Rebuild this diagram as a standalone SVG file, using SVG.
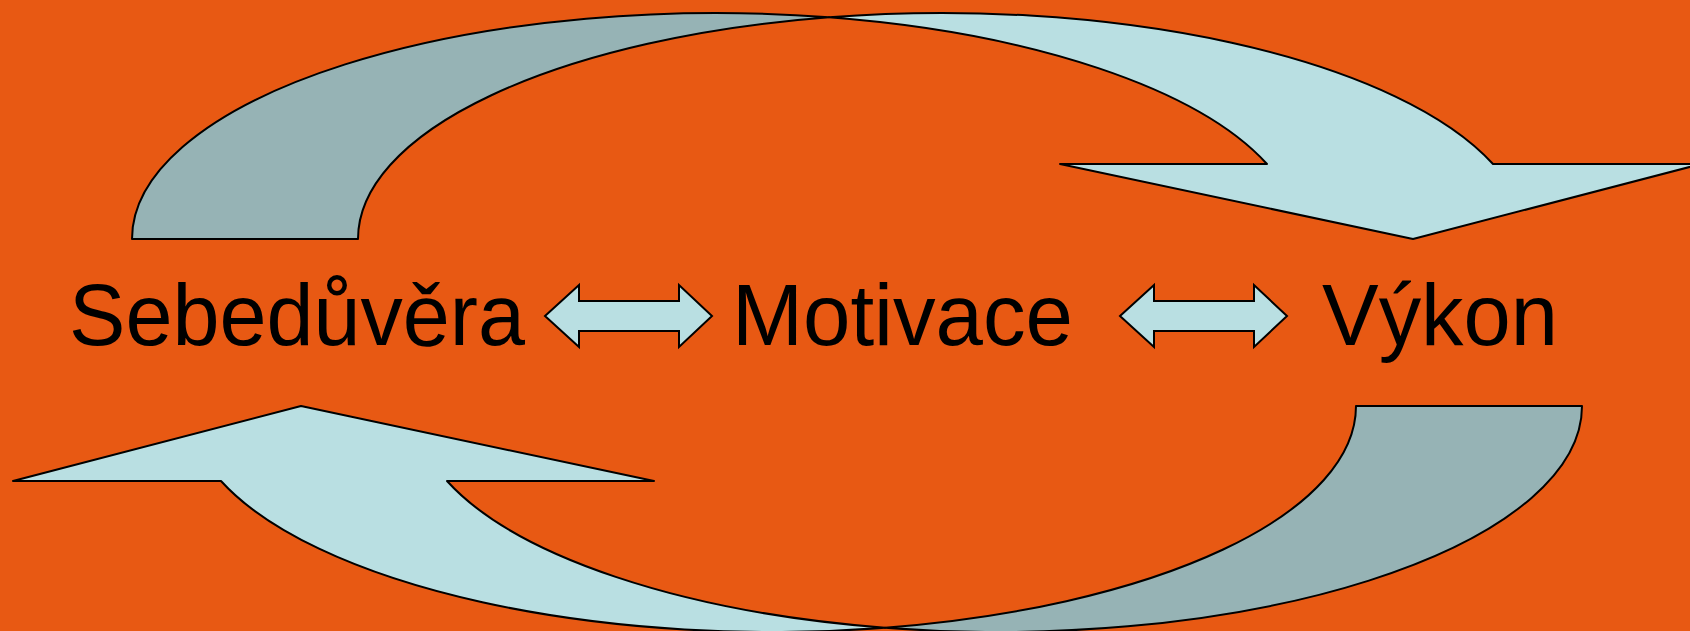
<svg xmlns="http://www.w3.org/2000/svg" width="1690" height="631" viewBox="0 0 1690 631">
  <style>
    .back { fill: #96B3B5; stroke: #000; stroke-width: 2; stroke-linejoin: round; }
    .front { fill: #B9DFE2; stroke: #000; stroke-width: 2; stroke-linejoin: round; }
    .dbl { fill: #B9DFE2; stroke: #000; stroke-width: 2; stroke-linejoin: miter; }
    .lbl { font-family: "Liberation Sans", Arial, sans-serif; font-size: 88px; fill: #000; }
  </style>
  <defs>
    <g id="curved">
      <path class="back" d="M132,239 A584,226 0 0 1 829,17.27 A584,226 0 0 0 358,239 Z"/>
      <path class="front" d="M829,17.27 A584,226 0 0 1 1493,164 L1701,164 L1413,239 L1060,164 L1267,164 A584,226 0 0 0 829,17.27 Z"/>
    </g>
  </defs>
  <rect x="0" y="0" width="1690" height="631" fill="#E85913"/>
  <g id="connectors">
    <use id="cycle-top" href="#curved"/>
    <use id="cycle-bottom" href="#curved" transform="rotate(180 857 322.5)"/>
    <path id="dbl-left" class="dbl" d="M545,316 L579,285 L579,301 L679,301 L679,285 L712,316 L679,347 L679,331 L579,331 L579,347 Z"/>
    <path id="dbl-right" class="dbl" d="M1120,316 L1154,285 L1154,301 L1254,301 L1254,285 L1287,316 L1254,347 L1254,331 L1154,331 L1154,347 Z"/>
  </g>
  <g id="node-sebeduvera">
    <text class="lbl" x="69" y="345" textLength="456" lengthAdjust="spacingAndGlyphs">Sebedůvěra</text>
  </g>
  <g id="node-motivace">
    <text class="lbl" x="732" y="345" textLength="341" lengthAdjust="spacingAndGlyphs">Motivace</text>
  </g>
  <g id="node-vykon">
    <text class="lbl" x="1322" y="345" textLength="236" lengthAdjust="spacingAndGlyphs">Výkon</text>
  </g>
</svg>
